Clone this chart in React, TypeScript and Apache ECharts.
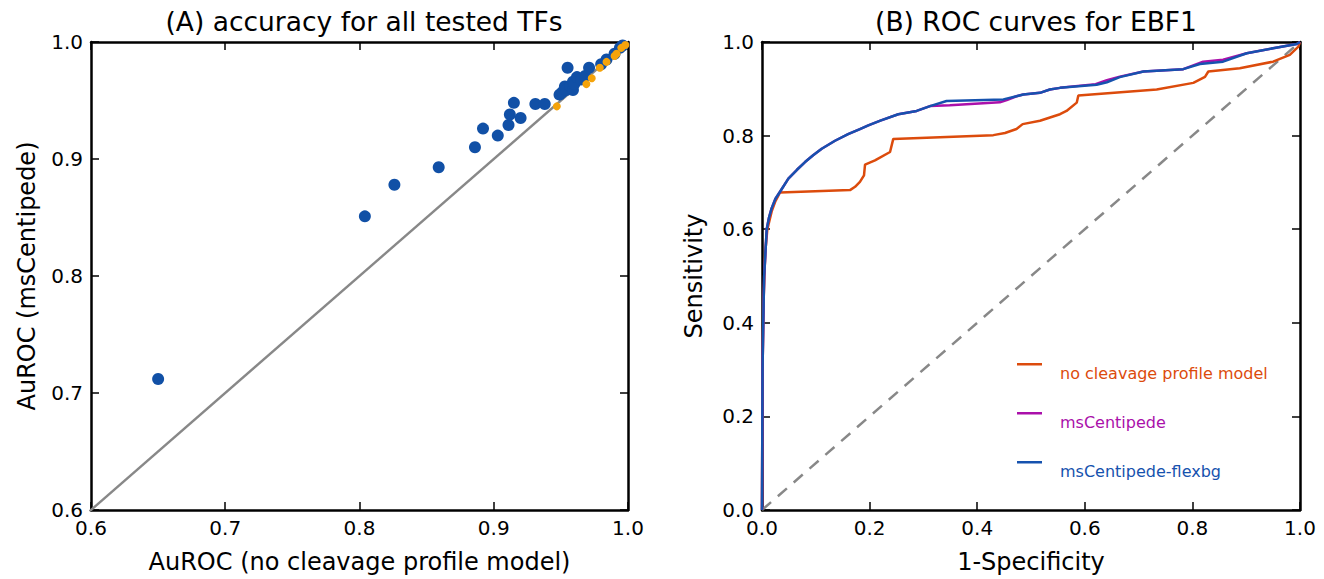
import React, { useEffect, useRef } from "react";
import * as echarts from "echarts";

// Panel A: AuROC scatter (x = no cleavage profile model, y = msCentipede)
const aboveDiag: number[][] = [
  [0.650, 0.712], [0.804, 0.851], [0.826, 0.878], [0.859, 0.893], [0.886, 0.910],
  [0.892, 0.926], [0.903, 0.920], [0.911, 0.929], [0.912, 0.938], [0.915, 0.948],
  [0.920, 0.935], [0.931, 0.947], [0.938, 0.947], [0.949, 0.955], [0.951, 0.957],
  [0.953, 0.962], [0.954, 0.959], [0.957, 0.962], [0.959, 0.959], [0.959, 0.966],
  [0.960, 0.964], [0.962, 0.970], [0.965, 0.968], [0.955, 0.978], [0.968, 0.971],
  [0.971, 0.978], [0.980, 0.981], [0.984, 0.985], [0.990, 0.990], [0.994, 0.995],
  [0.996, 0.997],
];
const belowDiag: number[][] = [
  [0.947, 0.945], [0.969, 0.964], [0.973, 0.969], [0.979, 0.978], [0.984, 0.983],
  [0.990, 0.988], [0.9915, 0.990], [0.995, 0.995], [0.998, 0.9975],
];
const diagonal: number[][] = [[0, 0], [1, 1]];

// Panel B: ROC curves for EBF1 ([1-specificity, sensitivity])
const rocNoCleavage: number[][] = [
  [0, 0], [0.001, 0.3], [0.003, 0.45], [0.006, 0.55], [0.01, 0.6], [0.018, 0.638],
  [0.025, 0.66], [0.0335, 0.6786], [0.1636, 0.6835], [0.173, 0.6906], [0.182, 0.701],
  [0.1896, 0.715], [0.1915, 0.738], [0.21, 0.747], [0.238, 0.765], [0.244, 0.793],
  [0.43, 0.801], [0.4517, 0.8055], [0.473, 0.814], [0.4845, 0.8245], [0.5167, 0.8316],
  [0.5539, 0.8457], [0.566, 0.8527], [0.585, 0.8704], [0.588, 0.8858], [0.7336, 0.8985],
  [0.8017, 0.9127], [0.8234, 0.9254], [0.8296, 0.937], [0.888, 0.944], [0.95, 0.958],
  [0.981, 0.9725], [0.997, 0.99], [1, 1],
];
const rocMsCentipede: number[][] = [
  [0, 0], [0.001, 0.3], [0.0025, 0.41], [0.004, 0.5], [0.0056, 0.533], [0.0087, 0.6],
  [0.013, 0.625], [0.018, 0.645], [0.025, 0.665], [0.0335, 0.68], [0.049, 0.708],
  [0.065, 0.727], [0.08, 0.7435], [0.095, 0.758], [0.111, 0.772], [0.1357, 0.789],
  [0.16, 0.803], [0.182, 0.814], [0.1976, 0.822], [0.22, 0.832], [0.2533, 0.8457],
  [0.2875, 0.8527], [0.3123, 0.863], [0.349, 0.865], [0.442, 0.871], [0.455, 0.876],
  [0.473, 0.884], [0.4857, 0.8879], [0.5167, 0.8914], [0.535, 0.8985], [0.554, 0.902],
  [0.62, 0.91], [0.641, 0.9185], [0.665, 0.926], [0.709, 0.937], [0.783, 0.942],
  [0.82, 0.958], [0.857, 0.962], [0.901, 0.976], [0.95, 0.9865], [0.994, 0.9958], [1, 1],
];
const rocFlexbg: number[][] = [
  [0, 0], [0.001, 0.3], [0.0025, 0.41], [0.004, 0.5], [0.0056, 0.533], [0.0087, 0.6],
  [0.013, 0.625], [0.018, 0.645], [0.025, 0.665], [0.0335, 0.68], [0.049, 0.708],
  [0.065, 0.727], [0.08, 0.7435], [0.095, 0.758], [0.111, 0.772], [0.1357, 0.789],
  [0.16, 0.803], [0.182, 0.814], [0.1976, 0.822], [0.22, 0.832], [0.2533, 0.8457],
  [0.2875, 0.8527], [0.3123, 0.863], [0.343, 0.874], [0.4486, 0.8774], [0.473, 0.884],
  [0.4857, 0.8879], [0.5167, 0.8914], [0.535, 0.8985], [0.554, 0.902], [0.622, 0.9087],
  [0.641, 0.914], [0.665, 0.925], [0.709, 0.937], [0.783, 0.942], [0.814, 0.953],
  [0.857, 0.958], [0.901, 0.976], [0.95, 0.9865], [0.994, 0.9958], [1, 1],
];

const xTicksA = [0.6, 0.7, 0.8, 0.9, 1.0];
const ticksB = [0.0, 0.2, 0.4, 0.6, 0.8, 1.0];
const seriesNames = ["no cleavage profile model", "msCentipede", "msCentipede-flexbg"];
const seriesColors = ["#dc4b0c", "#aa10aa", "#1652ae"];

const FONT = "DejaVu Sans";

export default function App() {
  const ref = useRef<HTMLDivElement>(null);
  useEffect(() => {
    if (!ref.current) return;
    const chart = echarts.init(ref.current, null, { renderer: "svg" });
    const tickLine = { lineStyle: { color: "#000", width: 2.5 } };
    const tick = { inside: true, length: 8, lineStyle: { color: "#000", width: 1.5 } };
    const lbl = { color: "#000", fontSize: 20, fontFamily: FONT, margin: 8, formatter: (v: number) => v.toFixed(1) };
    const nameStyle = { color: "#000", fontSize: 24, fontFamily: FONT };
    const titleStyle = { color: "#000", fontSize: 26.5, fontWeight: "normal", fontFamily: FONT };
    const mkAxis = (grid: number, min: number, max: number, interval: number, extra: any) => ({
      gridIndex: grid, type: "value", min, max, interval,
      axisLine: { show: true, onZero: false, ...tickLine },
      axisTick: tick, splitLine: { show: false }, ...extra,
    });
    const hidden = { axisLabel: { show: false } };
    chart.setOption({
      animation: false,
      title: [
        { text: "(A) accuracy for all tested TFs", left: 359, top: 3, textAlign: "center", textStyle: titleStyle },
        { text: "(B) ROC curves for EBF1", left: 1031, top: 3, textAlign: "center", textStyle: titleStyle },
      ],
      grid: [
        { left: 91, top: 42, width: 537, height: 473 },
        { left: 762, top: 42, width: 538, height: 473 },
      ],
      xAxis: [
        mkAxis(0, xTicksA[0], xTicksA[xTicksA.length - 1], 0.1, {
          position: "bottom", axisLabel: lbl,
          name: "AuROC (no cleavage profile model)", nameLocation: "middle", nameGap: 40, nameTextStyle: nameStyle,
        }),
        mkAxis(0, 0.6, 1.0, 0.1, { position: "top", ...hidden }),
        mkAxis(1, ticksB[0], ticksB[ticksB.length - 1], 0.2, {
          position: "bottom", axisLabel: lbl,
          name: "1-Specificity", nameLocation: "middle", nameGap: 40, nameTextStyle: nameStyle,
        }),
        mkAxis(1, 0, 1, 0.2, { position: "top", ...hidden }),
      ],
      yAxis: [
        mkAxis(0, 0.6, 1.0, 0.1, {
          position: "left", axisLabel: lbl,
          name: "AuROC (msCentipede)", nameLocation: "middle", nameGap: 52, nameTextStyle: nameStyle,
        }),
        mkAxis(0, 0.6, 1.0, 0.1, { position: "right", ...hidden }),
        mkAxis(1, 0, 1, 0.2, {
          position: "left", axisLabel: lbl,
          name: "Sensitivity", nameLocation: "middle", nameGap: 56, nameTextStyle: nameStyle,
        }),
        mkAxis(1, 0, 1, 0.2, { position: "right", ...hidden }),
      ],
      legend: {
        left: 1017, top: 363, orient: "vertical", padding: 0, itemGap: 29,
        itemWidth: 25, itemHeight: 20,
        icon: "path://M0,0H25V2.5H0Z M0,20L0,20",
        itemStyle: { borderWidth: 0 },
        data: seriesNames.map((n, i) => ({
          name: n,
          textStyle: { color: seriesColors[i], fontSize: 16, fontFamily: FONT, padding: [0, 0, 0, 13] },
        })),
      },
      series: [
        { type: "line", xAxisIndex: 0, yAxisIndex: 0, data: diagonal, showSymbol: false, silent: true,
          lineStyle: { color: "#888", width: 2.4 }, z: 1 },
        { type: "scatter", xAxisIndex: 0, yAxisIndex: 0, data: aboveDiag, symbolSize: 12,
          itemStyle: { color: "#1150a6", opacity: 1 }, z: 2 },
        { type: "scatter", xAxisIndex: 0, yAxisIndex: 0, data: belowDiag, symbolSize: 8,
          itemStyle: { color: "#f5a30a", opacity: 1 }, z: 3 },
        { type: "line", xAxisIndex: 2, yAxisIndex: 2, data: diagonal, showSymbol: false, silent: true,
          lineStyle: { color: "#888", width: 2.5, type: [12, 9] }, z: 1 },
        { name: seriesNames[0], type: "line", xAxisIndex: 2, yAxisIndex: 2, data: rocNoCleavage,
          showSymbol: false, lineStyle: { color: seriesColors[0], width: 2.5 }, itemStyle: { color: seriesColors[0] }, z: 2 },
        { name: seriesNames[1], type: "line", xAxisIndex: 2, yAxisIndex: 2, data: rocMsCentipede,
          showSymbol: false, lineStyle: { color: seriesColors[1], width: 2.5 }, itemStyle: { color: seriesColors[1] }, z: 3 },
        { name: seriesNames[2], type: "line", xAxisIndex: 2, yAxisIndex: 2, data: rocFlexbg,
          showSymbol: false, lineStyle: { color: seriesColors[2], width: 2.5 }, itemStyle: { color: seriesColors[2] }, z: 4 },
      ],
    });
    return () => chart.dispose();
  }, []);
  return <div ref={ref} style={{ position: "fixed", left: 0, top: 0, width: 1324, height: 579, background: "#fff" }} />;
}
